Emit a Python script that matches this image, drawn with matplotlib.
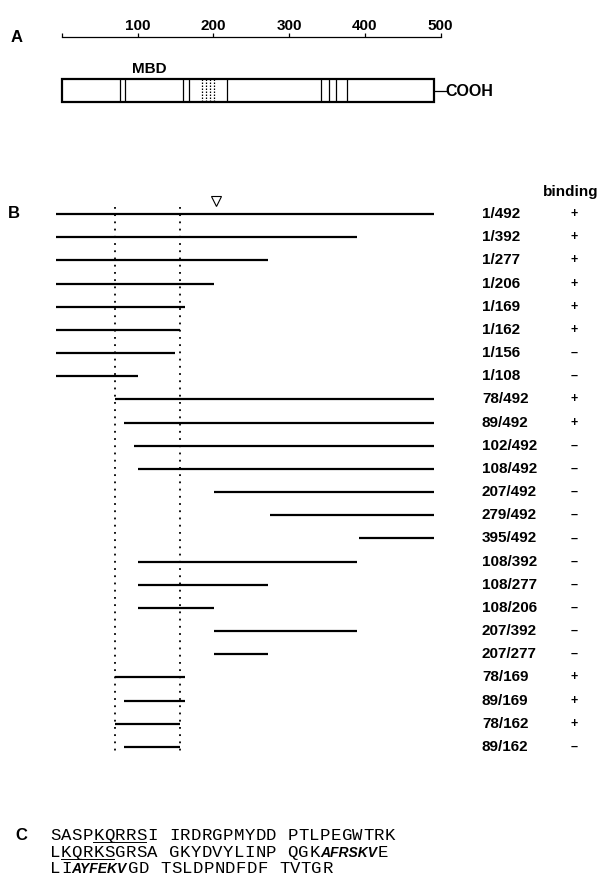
import matplotlib
matplotlib.use('Agg')
import matplotlib.pyplot as plt
from matplotlib.patches import Rectangle
from matplotlib.transforms import blended_transform_factory

plt.rcParams['font.family'] = ['Liberation Sans', 'DejaVu Sans']

# ---- panel A : residue scale + domain map
scale_ticks = [0, 100, 200, 300, 400, 500]
scale_labels = ['', '100', '200', '300', '400', '500']
protein_len = 492
solid_marks = [77, 83, 160, 168, 218, 342, 353, 362, 376]
dotted_marks = [185, 190, 196, 201]
mbd_pos = 116

# ---- panel B : deletion constructs
starts = [1, 1, 1, 1, 1, 1, 1, 1, 78, 89, 102, 108, 207, 279, 395,
          108, 108, 108, 207, 207, 78, 89, 78, 89]
ends = [492, 392, 277, 206, 169, 162, 156, 108, 492, 492, 492, 492, 492, 492, 492,
        392, 277, 206, 392, 277, 169, 169, 162, 162]
binding = ['+', '+', '+', '+', '+', '+', '–', '–', '+', '+', '–', '–', '–', '–', '–',
           '–', '–', '–', '–', '–', '+', '+', '+', '–']
mbd_bounds = [78, 162]
triangle_pos = 209

# ---- panel C : sequence, (text, style) runs per line
seq_lines = [
    [('SASP', ''), ('KQRRS', 'u'), ('I IRDRGPMYDD PTLPEGWTRK', '')],
    [('L', ''), ('KQRKS', 'u'), ('GRSA GKYDVYLINP QGK', ''), ('AFRSKV', 'b'), ('E', '')],
    [('LI', ''), ('AYFEKV', 'b'), ('GD TSLDPNDFDF TVTGR', '')],
]

W, H = 601, 888
fig = plt.figure(figsize=(W / 100, H / 100), dpi=100)

# panel A
axA = fig.add_axes([0, 1 - 130 / H, 1, 130 / H])
axA.set_xlim(-62 / 0.757, (W - 62) / 0.757)
axA.set_ylim(130, 0)
axA.axis('off')
tA = blended_transform_factory(axA.transAxes, axA.transData)
axA.text(17 / W, 37, 'A', transform=tA, ha='center', va='center', fontsize=12, fontweight='bold')
axA.plot([scale_ticks[0], scale_ticks[-1]], [37, 37], color='black', lw=0.9)
axA.vlines(scale_ticks, 33.5, 37, color='black', lw=0.9)
for t, l in zip(scale_ticks, scale_labels):
    axA.text(t, 26, l, ha='center', va='center', fontsize=11, fontweight='bold')
axA.add_patch(Rectangle((0, 79), protein_len, 23, fill=False, lw=1.6, ec='black'))
axA.vlines(solid_marks, 79, 102, color='black', lw=0.9)
axA.vlines(dotted_marks, 79, 102, color='black', lw=0.9, linestyles=(0, (1.2, 1.2)))
axA.text(mbd_pos, 69, 'MBD', ha='center', va='center', fontsize=11, fontweight='bold')
axA.plot([protein_len, protein_len + 15], [91, 91], color='black', lw=0.9)
axA.text(protein_len + 15, 91, 'COOH', ha='left', va='center', fontsize=11.5, fontweight='bold')

# panel B
axB = fig.add_axes([0, 1 - 780 / H, 1, 600 / H])
axB.set_xlim(-55 / 0.77, (W - 55) / 0.77)
step = 23.17
axB.set_ylim((780 - 214) / step, (180 - 214) / step)
axB.axis('off')
tB = blended_transform_factory(axB.transAxes, axB.transData)
rows = list(range(len(starts)))
axB.hlines(rows, starts, ends, color='black', lw=1.6)
axB.vlines(mbd_bounds, -0.3, 23.3, color='black', lw=1.3, linestyles=(0, (1.0, 3.0)))
axB.plot(triangle_pos, -0.58, marker='v', ms=7, mfc='white', mec='black', mew=0.8)
axB.text(14 / W, -0.04, 'B', transform=tB, ha='center', va='center', fontsize=12, fontweight='bold')
axB.text(571 / W, -0.95, 'binding', transform=tB, ha='center', va='center', fontsize=11, fontweight='bold')
for i in rows:
    axB.text(482 / W, i, f'{starts[i]}/{ends[i]}', transform=tB, ha='left', va='center',
             fontsize=11, fontweight='bold')
    axB.text(574 / W, i, binding[i], transform=tB, ha='center', va='center',
             fontsize=9, fontweight='bold')

# panel C
axC = fig.add_axes([0, 0, 1, 108 / H])
axC.set_xlim(0, W)
axC.set_ylim(888, 780)
axC.axis('off')
axC.text(21, 835, 'C', ha='center', va='center', fontsize=12, fontweight='bold')
mono = ['Nimbus Mono PS', 'Courier New', 'Liberation Mono']
renderer = fig.canvas.get_renderer()
pitch = 10.8
baselines = [840, 856.5, 873]
for runs, yb in zip(seq_lines, baselines):
    x = 50
    for txt, style in runs:
        if style == 'b':
            t = axC.text(x, yb, txt, ha='left', va='baseline', fontsize=10,
                         fontweight='bold', fontstyle='italic', family=['Liberation Sans'])
            x += t.get_window_extent(renderer).width + 1
            continue
        x0 = x
        for ch in txt:
            if ch != ' ':
                axC.text(x, yb, ch, ha='left', va='baseline', fontsize=12.5, family=mono)
            x += pitch
        if style == 'u':
            axC.plot([x0, x - 1], [yb + 2, yb + 2], color='black', lw=0.7)

fig.savefig('out.png', dpi=100)
